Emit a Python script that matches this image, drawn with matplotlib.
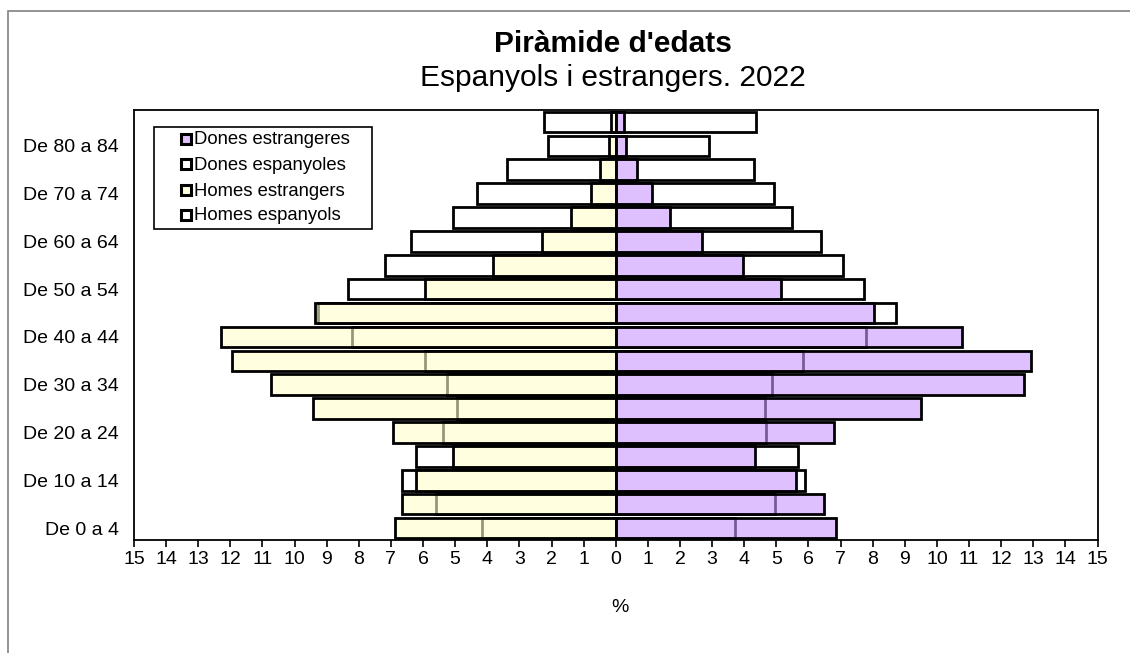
import matplotlib
matplotlib.use("Agg")
import matplotlib.pyplot as plt
from matplotlib.patches import Rectangle
import numpy as np

plt.rcParams['font.family'] = ['Liberation Sans', 'DejaVu Sans']

age_groups = ["De 0 a 4", "De 5 a 9", "De 10 a 14", "De 15 a 19", "De 20 a 24",
              "De 25 a 29", "De 30 a 34", "De 35 a 39", "De 40 a 44", "De 45 a 49",
              "De 50 a 54", "De 55 a 59", "De 60 a 64", "De 65 a 69", "De 70 a 74",
              "De 75 a 79", "De 80 a 84", "85 i més"]

homes_espanyols = [4.15, 5.61, 6.66, 6.21, 5.38, 4.94, 5.25, 5.95, 8.21, 9.28,
                   8.34, 7.18, 6.36, 5.06, 4.33, 3.40, 2.11, 2.23]
homes_estrangers = [6.88, 6.66, 6.23, 5.06, 6.94, 9.44, 10.74, 11.94, 12.30, 9.35,
                    5.95, 3.81, 2.30, 1.39, 0.76, 0.48, 0.22, 0.15]
dones_espanyoles = [3.72, 4.96, 5.88, 5.69, 4.67, 4.64, 4.86, 5.82, 7.80, 8.72,
                    7.72, 7.09, 6.40, 5.48, 4.94, 4.31, 2.91, 4.36]
dones_estrangeres = [6.87, 6.48, 5.61, 4.34, 6.81, 9.49, 12.72, 12.93, 10.77, 8.03,
                     5.15, 3.95, 2.67, 1.69, 1.14, 0.67, 0.33, 0.25]

title = "Piràmide d'edats"
subtitle = "Espanyols i estrangers. 2022"
legend_labels = ["Dones estrangeres", "Dones espanyoles", "Homes estrangers", "Homes espanyols"]
xtick_values = list(range(-15, 16))

W, H = 1130, 653
fig = plt.figure(figsize=(W / 100, H / 100), dpi=100)
fig.patch.set_facecolor('white')


def fx(px):
    return px / W


def fy(py):
    return 1 - py / H


# outer border
fig.patches.append(Rectangle((fx(8), -0.01), 1.2, fy(11) + 0.01, transform=fig.transFigure,
                             fill=False, edgecolor='#808080', linewidth=1.2))

ax = fig.add_axes([fx(134), fy(540), fx(1097.5) - fx(134), fy(110) - fy(540)])

y = np.arange(len(age_groups))
h = 0.86
yellow = (1.0, 1.0, 202 / 255, 0.6)
purple = (203 / 255, 150 / 255, 1.0, 0.6)
lw = 2.0

ax.barh(y, -np.array(homes_espanyols), height=h, color='white', edgecolor='black', linewidth=lw, zorder=2)
ax.barh(y, -np.array(homes_estrangers), height=h, color=yellow, edgecolor='black', linewidth=lw, zorder=3)
ax.barh(y, dones_espanyoles, height=h, color='white', edgecolor='black', linewidth=lw, zorder=2)
ax.barh(y, dones_estrangeres, height=h, color=purple, edgecolor='black', linewidth=lw, zorder=3)

ax.set_xlim(-15, 15)
ax.set_ylim(-0.5, len(age_groups) - 0.5)

ax.set_xticks(xtick_values)
ax.set_xticklabels([str(abs(v)) for v in xtick_values], fontsize=14)
ax.tick_params(axis='x', direction='out', length=5, width=1.2, pad=3, colors='black')

ax.set_yticks(y[::2])
ax.set_yticklabels(age_groups[::2], fontsize=14)
ax.tick_params(axis='y', length=0, pad=11)

for s in ax.spines.values():
    s.set_linewidth(1.3)
    s.set_color('black')

fig.text(fx(620), fy(607), "%", ha='center', va='center', fontsize=14)
fig.text(fx(613), fy(44), title, ha='center', va='center', fontsize=21.5, fontweight='bold')
fig.text(fx(613), fy(78), subtitle, ha='center', va='center', fontsize=21.5)

# legend (drawn manually for exact placement)
fig.patches.append(Rectangle((fx(154), fy(229)), fx(372) - fx(154), fy(127) - fy(229),
                             transform=fig.transFigure, facecolor='white', edgecolor='black',
                             linewidth=1.2, zorder=5))
legend_colors = [(224 / 255, 192 / 255, 1.0), 'white', (1.0, 1.0, 224 / 255), 'white']
legend_y = [139, 164, 190, 215]
for lab, col, py in zip(legend_labels, legend_colors, legend_y):
    fig.patches.append(Rectangle((fx(181), fy(py + 5)), fx(10), 10 / H,
                                 transform=fig.transFigure, facecolor=col, edgecolor='black',
                                 linewidth=2.2, zorder=6))
    fig.text(fx(194), fy(py + 1), lab, ha='left', va='center', fontsize=13.3, zorder=6)

fig.savefig("out.png", dpi=100, facecolor='white')
